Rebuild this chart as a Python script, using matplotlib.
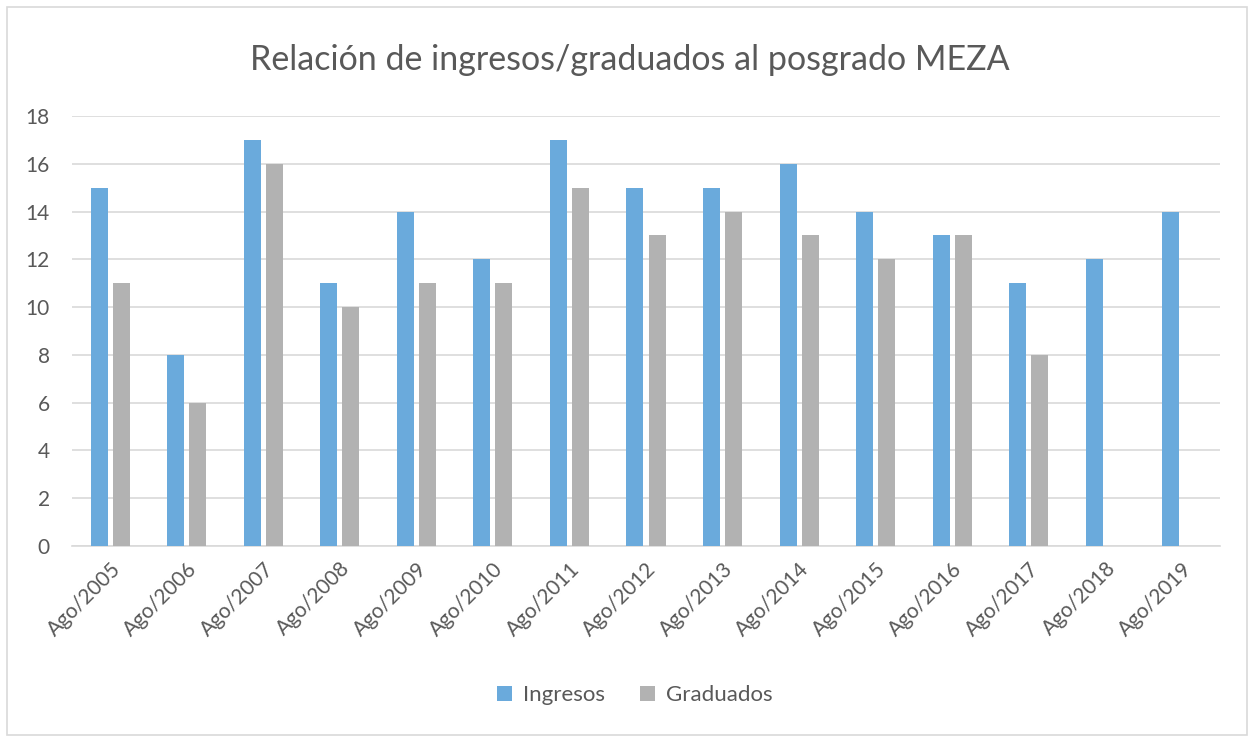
import matplotlib
matplotlib.use('Agg')
import matplotlib.pyplot as plt
import numpy as np
from matplotlib.patches import Rectangle

plt.rcParams['font.family'] = ['Lato', 'DejaVu Sans']

# datos por periodo de ingreso
periodos = ['Ago/2005', 'Ago/2006', 'Ago/2007', 'Ago/2008', 'Ago/2009', 'Ago/2010',
            'Ago/2011', 'Ago/2012', 'Ago/2013', 'Ago/2014', 'Ago/2015', 'Ago/2016',
            'Ago/2017', 'Ago/2018', 'Ago/2019']
ingresos = [15, 8, 17, 11, 14, 12, 17, 15, 15, 16, 14, 13, 11, 12, 14]
graduados = [11, 6, 16, 10, 11, 11, 15, 13, 14, 13, 12, 13, 8, np.nan, np.nan]

azul = '#6aaadc'
gris = '#b2b2b2'
texto = '#595959'

fig = plt.figure(figsize=(12.5, 7.38), dpi=100)
ax = fig.add_axes([72 / 1250, 1 - 546 / 738, (1220 - 72) / 1250, (546 - 116) / 738])

x = np.arange(len(periodos))
ancho = 0.222
ax.bar(x - 0.144, ingresos, ancho, color=azul, label='Ingresos', zorder=3)
ax.bar(x + 0.144, graduados, ancho, color=gris, label='Graduados', zorder=3)

ax.set_xlim(-0.5, len(periodos) - 0.5)
ax.set_ylim(0, 18)
ax.set_yticks(range(0, 19, 2))
ax.grid(axis='y', color='#d9d9d9', linewidth=1.2, zorder=0)
for s in ['top', 'right', 'left']:
    ax.spines[s].set_visible(False)
ax.spines['bottom'].set_color('#d9d9d9')
ax.spines['bottom'].set_linewidth(1.2)

ax.set_xticks(x)
ax.set_xticklabels(periodos, rotation=45, ha='right', rotation_mode='anchor')
ax.tick_params(axis='both', length=0, labelsize=15, colors=texto)
ax.tick_params(axis='y', pad=16)
ax.tick_params(axis='x', pad=9)

fig.text(0.504, 1 - 60 / 738, 'Relación de ingresos/graduados al posgrado MEZA',
         ha='center', va='center', fontsize=24.5, color=texto)

fig.legend(loc='center', bbox_to_anchor=(0.508, 1 - 695 / 738), ncol=2, frameon=False,
           fontsize=16, labelcolor=texto, handlelength=0.65, handleheight=0.65,
           handletextpad=0.5, columnspacing=1.6)

# marco del gráfico
fig.patches.append(Rectangle((7 / 1250, 3 / 738), 1240 / 1250, 728 / 738,
                             transform=fig.transFigure, fill=False,
                             edgecolor='#d9d9d9', linewidth=1.2))

fig.savefig('out.png', dpi=100)
